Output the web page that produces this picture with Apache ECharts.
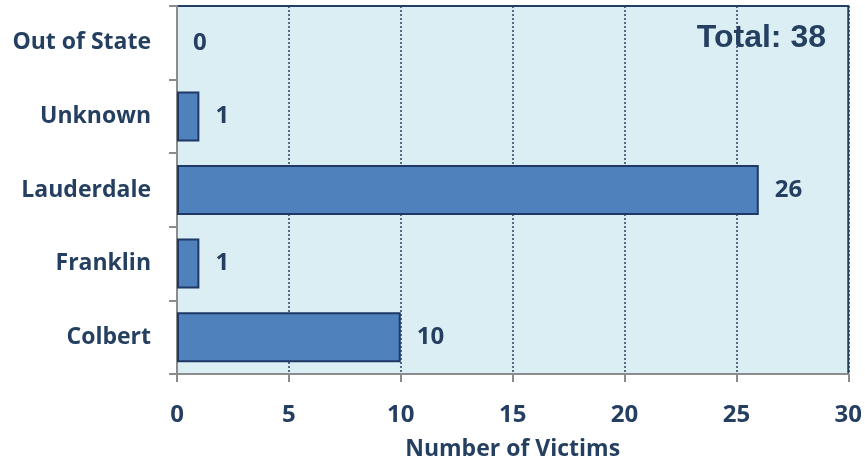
<!DOCTYPE html>
<html><head><meta charset="utf-8">
<script src="https://cdn.jsdelivr.net/npm/echarts@6/dist/echarts.min.js"></script>
<style>html,body{margin:0;padding:0;background:#fff}#c{width:865px;height:466px}</style>
</head><body><div id="c"></div>
<script>
const categories = ['Colbert', 'Franklin', 'Lauderdale', 'Unknown', 'Out of State'];
const victims = [10, 1, 26, 1, 0];
const xTicks = [0, 5, 10, 15, 20, 25, 30];
const totalLabel = 'Total: 38';
const axisTitle = 'Number of Victims';

const navy = '#243F60';
const font = 'Open Sans';
const chart = echarts.init(document.getElementById('c'));
chart.setOption({
  animation: false,
  title: {
    text: totalLabel, right: 34, top: 17,
    textStyle: {fontFamily: 'Liberation Sans', fontWeight: 'bold', fontSize: 32, color: navy}
  },
  grid: {left: 177, right: 15, top: 6, bottom: 91, show: true, backgroundColor: '#DBEEF4', borderColor: navy, borderWidth: 2},
  xAxis: {
    type: 'value', min: xTicks[0], max: xTicks[xTicks.length - 1], interval: 5,
    name: axisTitle, nameLocation: 'middle', nameGap: 64,
    nameTextStyle: {fontFamily: font, fontWeight: 'bold', fontSize: 23, color: navy},
    axisLine: {show: true, lineStyle: {color: '#8C8C8C', width: 2}},
    axisTick: {show: true, length: 8, lineStyle: {color: '#8C8C8C', width: 2}},
    axisLabel: {margin: 29, fontFamily: font, fontWeight: 'bold', fontSize: 24, color: navy},
    splitLine: {show: true, lineStyle: {color: navy, type: [2, 2], width: 1.5}}
  },
  yAxis: {
    type: 'category', data: categories, boundaryGap: true,
    axisLine: {show: true, lineStyle: {color: '#8C8C8C', width: 2}},
    axisTick: {show: true, length: 8, alignWithLabel: false, lineStyle: {color: '#8C8C8C', width: 2}},
    axisLabel: {margin: 26, padding: [4, 0, 0, 0], fontFamily: font, fontWeight: 'bold', fontSize: 23, color: navy},
    splitLine: {show: false}
  },
  series: [{
    type: 'bar',
    data: victims.map(v => v === 0 ? {value: v, itemStyle: {borderWidth: 0}} : v),
    barWidth: 50,
    itemStyle: {color: '#4F81BD', borderColor: '#1F3864', borderWidth: 2},
    label: {show: true, position: 'right', distance: 16, padding: [4, 0, 0, 0], fontFamily: font, fontWeight: 'bold', fontSize: 24, color: navy}
  }]
});
</script></body></html>
